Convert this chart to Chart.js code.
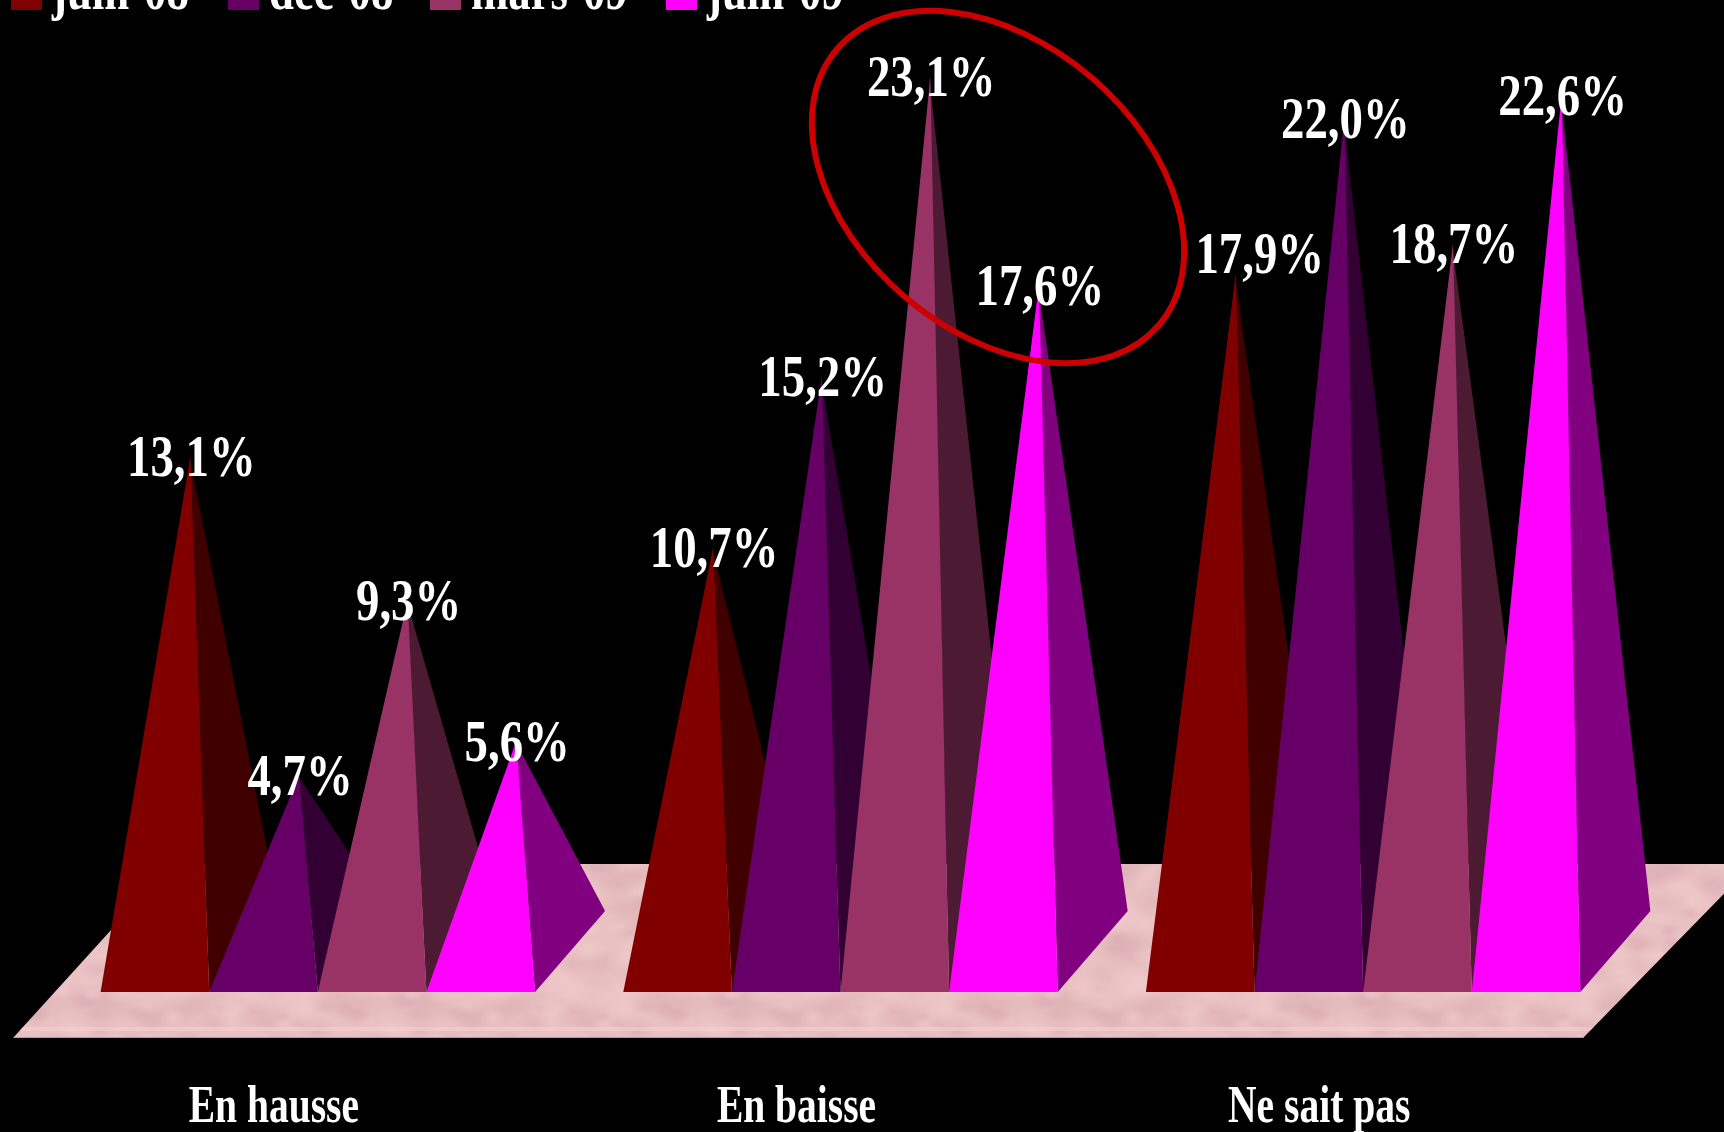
<!DOCTYPE html>
<html>
<head>
<meta charset="utf-8">
<style>
html,body{margin:0;padding:0;background:#000;overflow:hidden}
#wrap{position:absolute;left:0;top:0;width:1724px;height:1132px}
</style>
<script src="https://cdn.jsdelivr.net/npm/chart.js@4/dist/chart.umd.min.js"></script>
</head>
<body>
<div id="wrap"><canvas id="c" width="1724" height="1132"></canvas></div>
<script>
const categories = ['En hausse', 'En baisse', 'Ne sait pas'];
const seriesNames = ['juin-08', 'déc-08', 'mars-09', 'juin-09'];
const juin08 = [13.1, 10.7, 17.9];
const dec08 = [4.7, 15.2, 22.0];
const mars09 = [9.3, 23.1, 18.7];
const juin09 = [5.6, 17.6, 22.6];
const frontColors = ['#800000', '#660066', '#993366', '#ff00ff'];
const sideColors = ['#400000', '#330033', '#4d1a33', '#800080'];
const allSeries = [juin08, dec08, mars09, juin09];

const FONT = '"Liberation Serif","Times New Roman",serif';
const DEPTH_X = 70, DEPTH_Y = 81;
const FRONT_SHIFT_X = 34.5, FRONT_SHIFT_Y = 38;

function stretchedText(ctx, text, x, y, size, sx, align) {
  ctx.save();
  ctx.font = 'bold ' + size + 'px ' + FONT;
  ctx.fillStyle = '#fff';
  ctx.textAlign = align;
  ctx.textBaseline = 'alphabetic';
  ctx.translate(x, y);
  ctx.scale(sx, 1);
  ctx.fillText(text, 0, 0);
  ctx.restore();
}

function floorPattern(ctx) {
  const W = 320, H = 180;
  const c = document.createElement('canvas');
  c.width = W; c.height = H;
  const g = c.getContext('2d');
  g.fillStyle = '#eac1c3';
  g.fillRect(0, 0, W, H);
  for (let i = 0; i < 150; i++) {
    const bx = (i * 73 + (i * i) % 41) % W;
    const by = (i * 37 + (i * i) % 29) % H;
    const r = 8 + (i * 7) % 17;
    const col = i % 5 < 3 ? '216,170,175' : '243,207,207';
    // each blot is repeated across the tile edges so the pattern has no seams
    [-W, 0, W].forEach(ox => [-H, 0, H].forEach(oy => {
      const px = bx + ox, py = by + oy;
      g.save();
      g.translate(px, py);
      g.scale(1.3, .8);
      const gr = g.createRadialGradient(0, 0, 0, 0, 0, r);
      gr.addColorStop(0, 'rgba(' + col + ',0.5)');
      gr.addColorStop(1, 'rgba(' + col + ',0)');
      g.fillStyle = gr;
      g.fillRect(-r, -r, r * 2, r * 2);
      g.restore();
    }));
  }
  return ctx.createPattern(c, 'repeat');
}

const pyramids = {
  id: 'pyramids',
  beforeDatasetsDraw(chart) {
    const ctx = chart.ctx;
    const zero = chart.scales.y.getPixelForValue(0);
    const frontY = zero + 84;
    const backY = zero - 90;
    ctx.save();
    ctx.fillStyle = floorPattern(ctx);
    ctx.beginPath();
    ctx.moveTo(13, frontY);
    ctx.lineTo(1583, frontY);
    ctx.lineTo(1753, backY);
    ctx.lineTo(171, backY);
    ctx.closePath();
    ctx.fill();
    // pale streak near the front edge and its thin grey lip
    ctx.clip();
    ctx.fillStyle = 'rgba(246,208,208,0.55)';
    ctx.fillRect(0, frontY - 11, 1724, 4);
    ctx.fillStyle = 'rgba(170,140,140,0.8)';
    ctx.fillRect(0, frontY - 1, 1724, 1);
    ctx.restore();
  },
  afterDatasetsDraw(chart) {
    const ctx = chart.ctx;
    const zero = chart.scales.y.getPixelForValue(0);
    const baseY = zero + FRONT_SHIFT_Y;
    const metas = chart.data.datasets.map((d, i) => chart.getDatasetMeta(i));
    categories.forEach((cat, ci) => {
      metas.forEach((meta, si) => {
        const bar = meta.data[ci].getProps(['x', 'y', 'width']);
        const left = bar.x - FRONT_SHIFT_X - bar.width / 2;
        const right = left + bar.width;
        ctx.fillStyle = sideColors[si];
        ctx.beginPath();
        ctx.moveTo(right, baseY);
        ctx.lineTo(right + DEPTH_X, baseY - DEPTH_Y);
        ctx.lineTo(bar.x, bar.y);
        ctx.closePath();
        ctx.fill();
        ctx.fillStyle = frontColors[si];
        ctx.beginPath();
        ctx.moveTo(left, baseY);
        ctx.lineTo(right, baseY);
        ctx.lineTo(bar.x + 1, bar.y);
        ctx.closePath();
        ctx.fill();
      });
    });
    // value labels (the 17,9% label sits up and to the right in the reference)
    metas.forEach((meta, si) => {
      meta.data.forEach((el, ci) => {
        const txt = allSeries[si][ci].toFixed(1).replace('.', ',') + '%';
        const moved = si === 0 && ci === 2;
        stretchedText(ctx, txt, el.x + 2 + (moved ? 23 : 0), el.y + 19.5 + (moved ? -20 : 0), 60, 0.78, 'center');
      });
    });
    // category labels
    const xs = chart.scales.x;
    categories.forEach((cat, i) => {
      stretchedText(ctx, cat, xs.getPixelForTick(i) - 78.5, 1122, 52, 0.76, 'center');
    });
    // legend, cropped by the top of the page
    const boxX = [11, 228, 430, 666];
    seriesNames.forEach((name, i) => {
      ctx.fillStyle = frontColors[i];
      ctx.fillRect(boxX[i], 0, 31, 10);
      stretchedText(ctx, name, boxX[i] + 41, 9, 56, 0.8, 'left');
    });
    // highlight ellipse
    ctx.save();
    ctx.strokeStyle = '#cc0000';
    ctx.lineWidth = 6;
    ctx.beginPath();
    ctx.ellipse(998, 187, 212, 144, 40.7 * Math.PI / 180, 0, Math.PI * 2);
    ctx.stroke();
    ctx.restore();
  }
};

new Chart(document.getElementById('c'), {
  type: 'bar',
  data: {
    labels: categories,
    datasets: seriesNames.map((name, i) => ({
      label: name,
      data: allSeries[i],
      backgroundColor: 'rgba(0,0,0,0)',
      borderWidth: 0
    }))
  },
  options: {
    responsive: false,
    animation: false,
    devicePixelRatio: 1,
    categoryPercentage: 0.8312,
    barPercentage: 1,
    layout: { padding: { left: 91, right: 65, top: 4, bottom: 178 } },
    plugins: { legend: { display: false }, tooltip: { enabled: false } },
    scales: {
      x: { display: false },
      y: { display: false, min: 0, max: 25 }
    }
  },
  plugins: [pyramids]
});
</script>
</body>
</html>
